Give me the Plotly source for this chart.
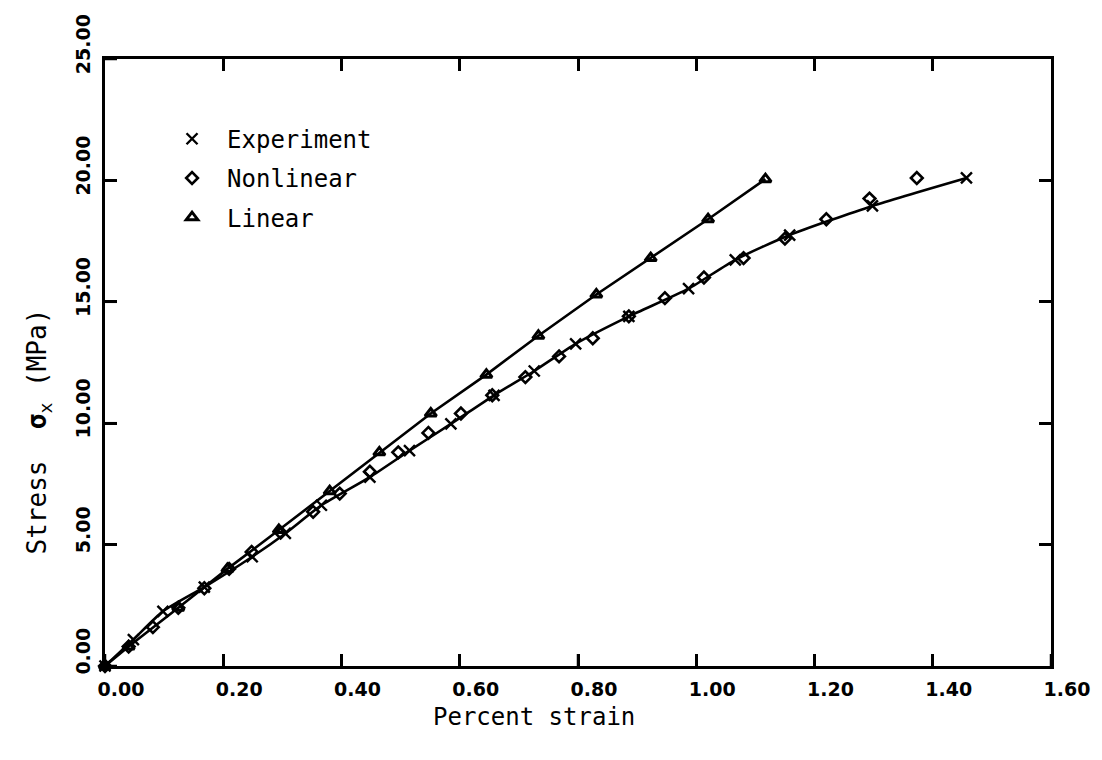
import plotly.graph_objects as go

# Measured response (percent strain, stress in MPa)
strain_exp = [0.0, 0.048, 0.098, 0.168, 0.249, 0.305, 0.366, 0.448, 0.515, 0.585,
              0.658, 0.726, 0.796, 0.886, 0.987, 1.066, 1.158, 1.298, 1.457]
stress_exp = [0.0, 1.09, 2.25, 3.25, 4.5, 5.46, 6.62, 7.78, 8.87, 9.97,
              11.15, 12.15, 13.27, 14.4, 15.54, 16.73, 17.75, 18.95, 20.1]

# Nonlinear model prediction
strain_nonlin = [0.0, 0.040, 0.081, 0.124, 0.168, 0.210, 0.248, 0.297, 0.352, 0.397,
                 0.448, 0.496, 0.547, 0.602, 0.655, 0.711, 0.768, 0.825, 0.886, 0.947,
                 1.013, 1.080, 1.150, 1.220, 1.293, 1.373]
stress_nonlin = [0.0, 0.8, 1.6, 2.4, 3.2, 4.0, 4.7, 5.5, 6.35, 7.1,
                 8.0, 8.8, 9.6, 10.4, 11.15, 11.9, 12.75, 13.5, 14.4, 15.15,
                 16.0, 16.8, 17.6, 18.4, 19.25, 20.1]

# Linear model prediction
strain_lin = [0.0, 0.040, 0.124, 0.207, 0.294, 0.380, 0.464, 0.551, 0.645, 0.733,
              0.831, 0.923, 1.020, 1.117]
stress_lin = [0.0, 0.8, 2.4, 4.0, 5.6, 7.2, 8.8, 10.4, 12.0, 13.6,
              15.3, 16.8, 18.4, 20.05]

x_ticks = [0.0, 0.2, 0.4, 0.6, 0.8, 1.0, 1.2, 1.4, 1.6]
x_tick_text = ["0.00", "0.20", "0.40", "0.60", "0.80", "1.00", "1.20", "1.40", "1.60"]
y_ticks = [0, 5, 10, 15, 20, 25]
y_tick_text = ["0.00", "5.00", "10.00", "15.00", "20.00", "25.00"]

INK = "#000000"
MONO = "DejaVu Sans Mono"
TICKFONT = dict(family="DejaVu Sans", size=19, color=INK, weight="bold")

fig = go.Figure()

# connecting curves (kept out of the legend)
fig.add_trace(go.Scatter(x=strain_lin, y=stress_lin, mode="lines",
                         line=dict(color=INK, width=2.6), showlegend=False,
                         hoverinfo="skip", cliponaxis=False))
fig.add_trace(go.Scatter(x=strain_exp, y=stress_exp, mode="lines",
                         line=dict(color=INK, width=2.6, shape="spline", smoothing=0.6),
                         showlegend=False, hoverinfo="skip", cliponaxis=False))

# point symbols
fig.add_trace(go.Scatter(x=strain_exp, y=stress_exp, mode="markers", name="Experiment",
                         legendgroup="a",
                         marker=dict(symbol="x-thin-open", size=11, color=INK,
                                     line=dict(color=INK, width=2.4)),
                         cliponaxis=False))
fig.add_trace(go.Scatter(x=strain_nonlin, y=stress_nonlin, mode="markers", name="Nonlinear",
                         legendgroup="b",
                         marker=dict(symbol="diamond-open", size=9, color=INK,
                                     line=dict(color=INK, width=2.6)),
                         cliponaxis=False))
fig.add_trace(go.Scatter(x=strain_lin, y=stress_lin, mode="markers", name="Linear",
                         legendgroup="c",
                         marker=dict(symbol="triangle-up-open", size=10, color=INK,
                                     line=dict(color=INK, width=3)),
                         cliponaxis=False))

# tick marks crossing the left and bottom frame lines
shapes = []
for v in x_ticks:
    shapes.append(dict(type="line", xref="x", yref="y", ysizemode="pixel", yanchor=0,
                       x0=v, x1=v, y0=-9, y1=12, line=dict(color=INK, width=2.5)))
for v in y_ticks:
    shapes.append(dict(type="line", xref="x", yref="y", xsizemode="pixel", xanchor=0,
                       y0=v, y1=v, x0=-8, x1=12, line=dict(color=INK, width=2.5)))

fig.update_layout(
    width=1102, height=760,
    margin=dict(l=105, r=44, t=59, b=94),
    paper_bgcolor="white", plot_bgcolor="white",
    shapes=shapes,
    showlegend=True,
    legend=dict(x=0.055, y=0.905, xanchor="left", yanchor="top",
                font=dict(family=MONO, size=24, color=INK),
                bgcolor="rgba(0,0,0,0)", traceorder="grouped",
                tracegroupgap=5, itemwidth=60),
    xaxis=dict(range=[0, 1.6], tickvals=x_ticks, ticktext=x_tick_text,
               showgrid=False, zeroline=False, showline=True, linecolor=INK, linewidth=3,
               mirror="ticks", ticks="inside", ticklen=12, tickwidth=2.5, tickcolor=INK,
               tickfont=TICKFONT, ticklabelshift=16, ticklabelstandoff=4),
    yaxis=dict(range=[0, 25], tickvals=y_ticks, ticktext=y_tick_text,
               showgrid=False, zeroline=False, showline=True, linecolor=INK, linewidth=3,
               mirror="ticks", ticks="inside", ticklen=12, tickwidth=2.5, tickcolor=INK,
               tickfont=TICKFONT, tickangle=-90, ticklabelshift=-12, ticklabelstandoff=4),
    annotations=[
        dict(text="Percent strain", xref="paper", yref="paper", x=0.453, y=-0.084,
             xanchor="center", yanchor="middle", showarrow=False,
             font=dict(family=MONO, size=24, color=INK)),
        dict(text="Stress  <b>σ</b><sub>x</sub> (MPa)", xref="paper", yref="paper",
             x=-0.07, y=0.386, xanchor="center", yanchor="middle", textangle=-90,
             showarrow=False, font=dict(family=MONO, size=26, color=INK)),
    ],
)

fig.write_html("out.html")
